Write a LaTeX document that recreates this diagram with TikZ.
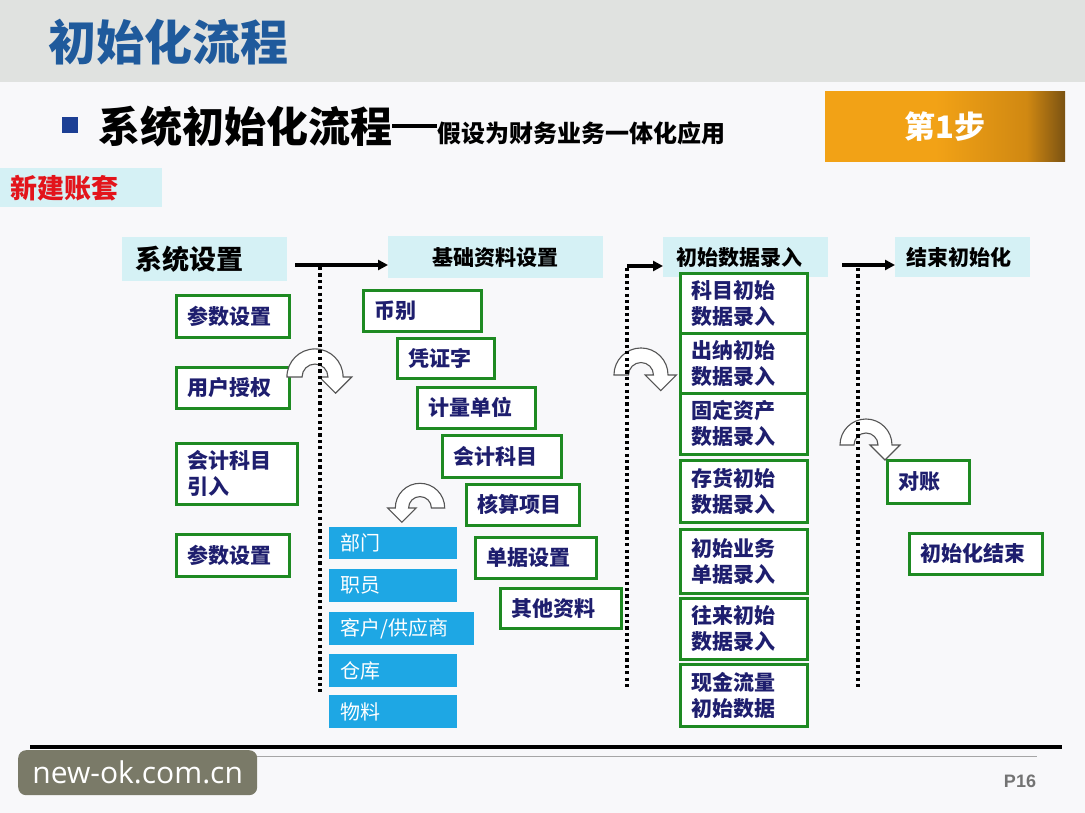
\documentclass[tikz,border=0pt]{standalone}
\usepackage{fontspec}
\setmainfont{Noto Sans CJK SC}
\newfontfamily\wmfont{Open Sans}
\newfontfamily\pfont{Liberation Sans}
\usetikzlibrary{arrows.meta}
\definecolor{headgray}{HTML}{E0E2E0}
\definecolor{pagebg}{HTML}{F8F8FA}
\definecolor{titleblue}{HTML}{1F5A9C}
\definecolor{bulletblue}{HTML}{1C3F94}
\definecolor{hcyan}{HTML}{D5F1F5}
\definecolor{gborder}{HTML}{1E8A22}
\definecolor{navy}{HTML}{1E1E6E}
\definecolor{bblue}{HTML}{1EA7E4}
\definecolor{redtxt}{HTML}{E3141B}
\definecolor{orangeA}{HTML}{F2A216}
\definecolor{orangeM}{HTML}{D08812}
\definecolor{orangeB}{HTML}{7A5212}
\definecolor{wmgray}{HTML}{7A7A68}
\definecolor{ugray}{HTML}{555555}
\pgfdeclarehorizontalshading{orangesh}{100bp}{color(0bp)=(orangeA); color(25bp)=(orangeA); color(48bp)=(orangeA); color(67bp)=(orangeM); color(75bp)=(orangeB); color(100bp)=(orangeB)}
\newcommand\myfs[2]{\fontsize{#1}{#2}\selectfont}
\tikzset{
  gbox/.style={draw=gborder, line width=2.6pt, fill=white, inner xsep=11pt, inner ysep=0pt,
    anchor=north west, align=left, text=navy, font=\myfs{21}{26}\bfseries},
  bbox/.style={fill=bblue, inner xsep=11pt, inner ysep=0pt, anchor=north west, align=left,
    text=white, font=\myfs{20}{24}},
  hbox/.style={fill=hcyan, inner ysep=0pt, anchor=north west, text=black},
  flow/.style={line width=3.2pt, -{Triangle[length=10pt,width=10pt]}},
  sepdots/.style={line width=3.2pt, dash pattern=on 3.2pt off 3.2pt},
  uarrow/.style={fill=white, draw=ugray, line width=1.1pt, line join=miter},
  uturn/.pic={
    \draw[uarrow] (-26,0) arc[start angle=180,end angle=360,radius=26] -- (34,0) -- (19,15)
      -- (4,0) -- (12,0) arc[start angle=360,end angle=180,radius=12] -- cycle;
  }
}
\begin{document}
\begin{tikzpicture}[x=1pt,y=-1pt]
\useasboundingbox (0,0) rectangle (1085,813);
\fill[pagebg] (0,0) rectangle (1085,813);
\fill[headgray] (0,0) rectangle (1085,82);
% title
\node[anchor=west, inner sep=0pt, text=titleblue, font=\myfs{48}{48}\bfseries] (title) at (48,42) {初始化流程};
\fill[bulletblue] (62,117) rectangle (78,133);
\node[anchor=base west, inner sep=0pt, text=black] (sub) at (98,143)
  {{\myfs{42}{42}\bfseries 系统初始化流程}\rule[15pt]{45pt}{4pt}{\myfs{24}{24}\bfseries 假设为财务业务一体化应用}};
\node[anchor=north west, minimum width=240pt, minimum height=70pt, inner sep=0pt,
  shading=orangesh, text=white, font=\myfs{31}{31}\bfseries] (step1) at (825,91) {第1步};
\node[hbox, text width=142pt, inner xsep=10pt, minimum height=39pt, align=left, text=redtxt,
  font=\myfs{27}{27}\bfseries] (xjzt) at (0,168) {新建账套};
% section headers
\node[hbox, inner xsep=13pt, text width=139pt, minimum height=44pt, align=left, font=\myfs{27}{27}\bfseries] (h1) at (122,237) {系统设置};
\node[hbox, inner xsep=10pt, text width=195pt, minimum height=42pt, align=center, font=\myfs{21}{21}\bfseries] (h2) at (388,236) {基础资料设置};
\node[hbox, inner xsep=13pt, text width=139pt, minimum height=40pt, align=left, font=\myfs{21}{21}\bfseries] (h3) at (663,237) {初始数据录入};
\node[hbox, inner xsep=11pt, text width=113pt, minimum height=40pt, align=left, font=\myfs{21}{21}\bfseries] (h4) at (895,237) {结束初始化};
% left column
\node[gbox, text width=91pt, minimum height=42pt] (p1) at (175,294) {参数设置};
\node[gbox, text width=91pt, minimum height=41pt] (p2) at (175,366) {用户授权};
\node[gbox, text width=99pt, minimum height=61pt] (p3) at (175,442) {会计科目\\引入};
\node[gbox, text width=91pt, minimum height=42pt] (p4) at (175,533) {参数设置};
% middle steps
\node[gbox, text width=96pt, minimum height=41pt] (m1) at (362,289) {币别};
\node[gbox, text width=75pt, minimum height=40pt] (m2) at (396,337) {凭证字};
\node[gbox, text width=96pt, minimum height=41pt] (m3) at (416,386) {计量单位};
\node[gbox, text width=97pt, minimum height=42pt] (m4) at (441,434) {会计科目};
\node[gbox, text width=91pt, minimum height=41pt] (m5) at (465,483) {核算项目};
\node[gbox, text width=99pt, minimum height=41pt] (m6) at (474,536) {单据设置};
\node[gbox, text width=99pt, minimum height=40pt] (m7) at (499,587) {其他资料};
% blue items
\node[bbox, text width=106pt, minimum height=32pt] (b1) at (329,527) {部门};
\node[bbox, text width=106pt, minimum height=33pt] (b2) at (329,569) {职员};
\node[bbox, text width=123pt, minimum height=33pt] (b3) at (329,612) {客户/供应商};
\node[bbox, text width=106pt, minimum height=33pt] (b4) at (329,654) {仓库};
\node[bbox, text width=106pt, minimum height=33pt] (b5) at (329,695) {物料};
% right column
\node[gbox, text width=105pt, minimum height=60pt] (r1) at (679,272) {科目初始\\数据录入};
\node[gbox, text width=105pt, minimum height=60pt] (r2) at (679,332) {出纳初始\\数据录入};
\node[gbox, text width=105pt, minimum height=61pt] (r3) at (679,392) {固定资产\\数据录入};
\node[gbox, text width=105pt, minimum height=62pt] (r4) at (679,459) {存货初始\\数据录入};
\node[gbox, text width=105pt, minimum height=64pt] (r5) at (679,528) {初始业务\\单据录入};
\node[gbox, text width=105pt, minimum height=61pt] (r6) at (679,597) {往来初始\\数据录入};
\node[gbox, text width=105pt, minimum height=62pt] (r7) at (679,663) {现金流量\\初始数据};
% end
\node[gbox, text width=60pt, minimum height=43pt] (e1) at (886,459) {对账};
\node[gbox, text width=111pt, minimum height=41pt] (e2) at (908,532) {初始化结束};
% u-turn arrows
\pic[scale=1.08] at (315,377) {uturn};
\pic[xscale=-0.95,yscale=0.95] at (420,508) {uturn};
\pic[scale=1.04] at (641,375) {uturn};
\pic at (866,445) {uturn};
% flow arrows
\coordinate (a1) at (295,265);
\coordinate (a2) at (627,266);
\coordinate (a3) at (842,265);
\draw[flow] (a1) -- (a1 -| h2.west);
\draw[flow] (a2) -- (a2 -| h3.west);
\draw[flow] (a3) -- (a3 -| h4.west);
% dotted separators
\coordinate (d1t) at (320,267); \coordinate (d1b) at (320,692);
\coordinate (d2t) at (627,268); \coordinate (d2b) at (627,690);
\coordinate (d3t) at (858,268); \coordinate (d3b) at (858,688);
\draw[sepdots] (d1t) -- (d1b);
\draw[sepdots] (d2t) -- (d2b);
\draw[sepdots] (d3t) -- (d3b);
% footer
\draw[line width=3.2pt] (30,747) -- (1062,747);
\draw[line width=1pt, gray!70] (45,756) -- (1037,756);
\node[anchor=north west, fill=wmgray, rounded corners=8pt, minimum width=239pt, minimum height=45pt,
  inner sep=0pt, text=white, font=\wmfont\myfs{30}{30}] (wm) at (18,750) {new-ok.com.cn};
\node[anchor=center, inner sep=0pt, text=gray!90!black, font=\pfont\myfs{18}{18}\bfseries] (pg) at (1020,781) {P16};
\end{tikzpicture}
\end{document}
